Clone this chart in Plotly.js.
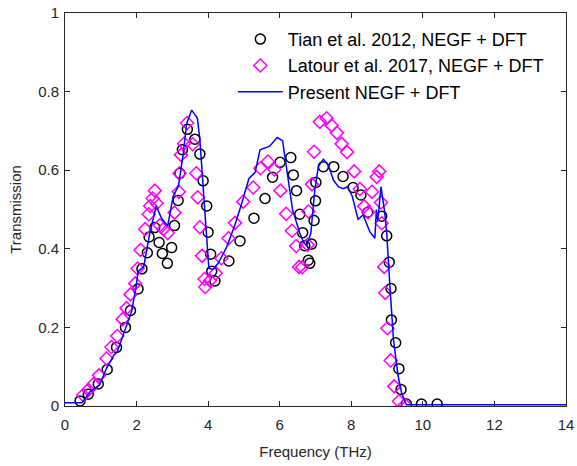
<!DOCTYPE html>
<html>
<head>
<meta charset="utf-8">
<script src="https://cdn.plot.ly/plotly-3.0.1.min.js"></script>
<style>html,body{margin:0;padding:0;background:#fff;}#chart{width:577px;height:466px;}</style>
</head>
<body>
<div id="chart"></div>
<script>
// Tian et al. 2012 (circles)
const tianX = [0.42,0.65,0.93,1.18,1.44,1.69,1.83,2.04,2.15,2.30,2.35,2.51,2.63,2.72,2.86,2.98,3.06,3.16,3.21,3.28,3.42,3.63,3.77,3.86,3.96,4.00,4.07,4.10,4.19,4.58,4.89,5.28,5.59,5.80,6.01,6.31,6.38,6.47,6.56,6.64,6.70,6.80,6.84,6.89,6.96,7.00,7.01,7.22,7.51,7.77,8.05,8.27,8.46,8.85,8.99,9.06,9.11,9.12,9.24,9.33,9.39,9.54,9.96,10.40];
const tianY = [0.013,0.030,0.056,0.093,0.149,0.200,0.243,0.298,0.349,0.390,0.430,0.454,0.416,0.388,0.363,0.403,0.459,0.523,0.592,0.652,0.704,0.679,0.641,0.573,0.509,0.442,0.386,0.343,0.318,0.369,0.420,0.478,0.528,0.582,0.620,0.632,0.588,0.548,0.488,0.441,0.408,0.371,0.363,0.412,0.472,0.522,0.569,0.609,0.609,0.584,0.556,0.537,0.493,0.483,0.433,0.366,0.299,0.219,0.161,0.095,0.042,0.005,0.005,0.005];

// Latour et al. 2017 (diamonds)
const latourX = [0.51,0.65,0.79,0.95,1.16,1.30,1.46,1.61,1.72,1.83,1.96,2.03,2.11,2.24,2.34,2.38,2.45,2.51,2.56,2.65,2.75,2.87,3.06,3.18,3.20,3.24,3.33,3.41,3.57,3.67,3.71,3.77,3.83,3.90,3.92,4.05,4.21,4.37,4.57,4.75,4.98,5.26,5.46,5.67,5.85,6.02,6.18,6.34,6.46,6.54,6.63,6.78,6.80,6.90,6.96,7.12,7.31,7.45,7.60,7.73,7.88,8.08,8.24,8.36,8.47,8.58,8.71,8.78,8.83,8.85,8.92,8.95,9.01,9.10,9.20,9.33,9.50];
const latourY = [0.028,0.041,0.055,0.078,0.121,0.150,0.178,0.221,0.249,0.284,0.312,0.350,0.397,0.450,0.488,0.509,0.528,0.548,0.516,0.460,0.450,0.440,0.492,0.545,0.592,0.639,0.668,0.720,0.666,0.592,0.531,0.455,0.382,0.323,0.303,0.319,0.338,0.376,0.427,0.466,0.520,0.556,0.605,0.622,0.602,0.548,0.489,0.446,0.407,0.354,0.353,0.410,0.495,0.564,0.647,0.723,0.732,0.714,0.695,0.667,0.646,0.597,0.552,0.508,0.493,0.545,0.583,0.597,0.518,0.465,0.354,0.288,0.198,0.116,0.050,0.012,0.003];

// Present NEGF + DFT (line)
const presX = [0.00,0.47,0.70,0.96,1.16,1.37,1.46,1.68,1.86,1.98,2.04,2.20,2.37,2.55,2.70,2.87,3.02,3.17,3.30,3.40,3.54,3.70,3.77,3.86,3.96,4.02,4.14,4.28,4.52,4.75,4.94,5.14,5.31,5.45,5.72,5.93,6.08,6.21,6.36,6.56,6.66,6.75,6.87,6.98,7.08,7.22,7.36,7.50,7.64,7.77,7.90,8.03,8.19,8.33,8.52,8.66,8.70,8.74,8.83,8.93,8.99,9.08,9.18,9.31,9.41,9.54,14.00];
const presY = [0.008,0.008,0.036,0.053,0.096,0.130,0.138,0.193,0.240,0.300,0.342,0.355,0.440,0.509,0.477,0.458,0.533,0.560,0.639,0.719,0.753,0.732,0.677,0.558,0.422,0.350,0.348,0.363,0.405,0.461,0.516,0.579,0.594,0.652,0.661,0.683,0.675,0.596,0.499,0.440,0.418,0.408,0.440,0.550,0.609,0.628,0.613,0.575,0.558,0.553,0.558,0.533,0.475,0.486,0.443,0.427,0.500,0.470,0.558,0.495,0.440,0.304,0.168,0.075,0.032,0.003,0.003];

const xTicks = [0,2,4,6,8,10,12,14];
const yTicks = [0,0.2,0.4,0.6,0.8,1];
const yTickText = ['0','0.2','0.4','0.6','0.8','1'];

const axisColor = '#262626';
const traces = [
  {x: tianX, y: tianY, type: 'scatter', mode: 'markers', name: 'Tian et al. 2012, NEGF + DFT',
   marker: {symbol: 'circle-open', size: 10, color: '#000000', line: {width: 1.5, color: '#000000'}}},
  {x: latourX, y: latourY, type: 'scatter', mode: 'markers', name: 'Latour et al. 2017, NEGF + DFT',
   marker: {symbol: 'diamond-open', size: 10, color: '#ff00ff', line: {width: 1.5, color: '#ff00ff'}}},
  {x: presX, y: presY, type: 'scatter', mode: 'lines', name: 'Present NEGF + DFT',
   line: {color: '#0000ff', width: 1.5}}
];

const layout = {
  width: 577, height: 466,
  margin: {l: 65, r: 11, t: 13, b: 60},
  paper_bgcolor: '#ffffff', plot_bgcolor: '#ffffff',
  font: {family: 'Arial, "Liberation Sans", sans-serif', size: 15, color: axisColor},
  showlegend: true,
  legend: {x: 0.335, y: 0.98, xanchor: 'left', yanchor: 'top', bgcolor: 'rgba(0,0,0,0)',
           font: {size: 18, color: '#000000'}, borderwidth: 0, itemwidth: 45},
  xaxis: {range: [0, 14], tickvals: xTicks, ticks: 'inside', ticklen: 5, tickcolor: axisColor,
          showline: true, linecolor: axisColor, linewidth: 1, mirror: 'ticks', showgrid: false, zeroline: false,
          tickfont: {size: 15, color: axisColor}, ticklabelstandoff: 5,
          title: {text: 'Frequency (THz)', font: {size: 15, color: axisColor}, standoff: 14}},
  yaxis: {range: [0, 1], tickvals: yTicks, ticktext: yTickText, ticks: 'inside', ticklen: 5, tickcolor: axisColor,
          showline: true, linecolor: axisColor, linewidth: 1, mirror: 'ticks', showgrid: false, zeroline: false,
          tickfont: {size: 15, color: axisColor}, ticklabelstandoff: 2,
          title: {text: 'Transmission', font: {size: 15, color: axisColor}, standoff: 12}}
};

Plotly.newPlot('chart', traces, layout, {displayModeBar: false, staticPlot: true});
</script>
</body>
</html>
